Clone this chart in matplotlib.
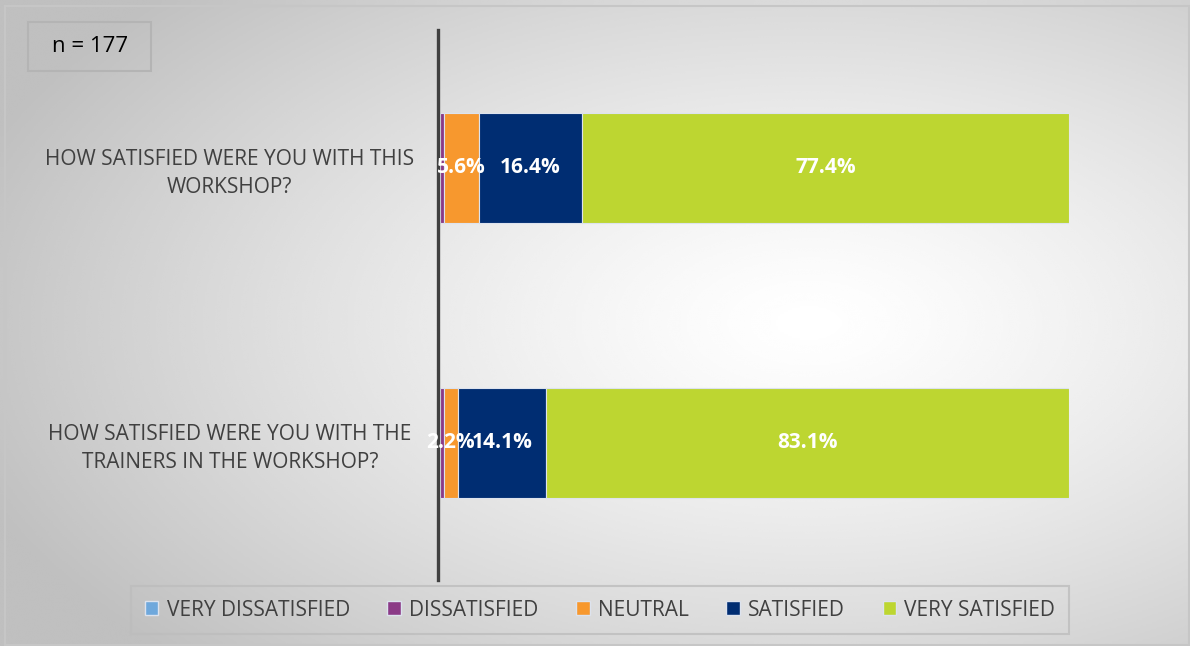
import numpy as np
import matplotlib
matplotlib.use("Agg")
import matplotlib.pyplot as plt
from matplotlib.patches import Rectangle, Patch

# survey results (% of respondents)
questions = ["HOW SATISFIED WERE YOU WITH THE\nTRAINERS IN THE WORKSHOP?",
             "HOW SATISFIED WERE YOU WITH THIS\nWORKSHOP?"]
levels = ["VERY DISSATISFIED", "DISSATISFIED", "NEUTRAL", "SATISFIED", "VERY SATISFIED"]
very_dissatisfied = [0.0, 0.0]
dissatisfied = [0.6, 0.6]
neutral = [2.2, 5.6]
satisfied = [14.1, 16.4]
very_satisfied = [83.1, 77.4]
n_resp = 177

colors = ["#6fa8dc", "#8b3a87", "#f7982e", "#002d72", "#bdd631"]
series = [very_dissatisfied, dissatisfied, neutral, satisfied, very_satisfied]
show_label = [False, False, True, True, True]

FONT = ["Liberation Sans Narrow", "Open Sans", "DejaVu Sans"]
TXT = "#404040"
W, H = 1190, 646

fig = plt.figure(figsize=(W / 100, H / 100), dpi=100)

# radial gradient backdrop
bg = fig.add_axes([0, 0, 1, 1], zorder=-10)
xx, yy = np.meshgrid(np.linspace(0, 1, 600), np.linspace(0, 1, 330))
d = np.sqrt(((xx - 0.68) / 0.75) ** 2 + ((yy - 0.5) / 0.75) ** 2)
shade = 1.0 - 0.25 * np.clip(d, 0, 1) ** 1.3
bg.imshow(shade, cmap="gray", vmin=0, vmax=1, extent=[0, 1, 0, 1],
          aspect="auto", interpolation="bicubic")
bg.set_xlim(0, 1); bg.set_ylim(0, 1)
bg.axis("off")
bg.add_patch(Rectangle((0.004, 0.002), 0.995, 0.988, transform=bg.transAxes,
                       fill=False, ec="#c6c6c6", lw=1.5))

# sample size box
bg.add_patch(Rectangle((28 / W, 1 - 71 / H), 123 / W, 49 / H, transform=bg.transAxes,
                       fill=False, ec="#b4b4b4", lw=1.5))
bg.text(90 / W, 1 - 47 / H, f"n = {n_resp}", ha="center", va="center",
        fontsize=16, color="black", family=FONT, transform=bg.transAxes)

ax = fig.add_axes([440 / W, 1 - 580 / H, 629 / W, 550 / H])
ax.patch.set_alpha(0)
ypos = np.arange(len(questions))
left = np.zeros(len(questions))
for vals, col, lab, show in zip(series, colors, levels, show_label):
    vals = np.array(vals)
    bars = ax.barh(ypos, vals, left=left, height=0.4, color=col,
                   edgecolor="#dde3ee", linewidth=0.8, label=lab, zorder=2)
    if show:
        for b, v in zip(bars, vals):
            ax.text(b.get_x() + b.get_width() / 2, b.get_y() + b.get_height() / 2,
                    f"{v:.1f}%", ha="center", va="center", color="white",
                    fontsize=15, fontweight="bold", family=FONT, zorder=5)
    left += vals

# spine position first: moving it resets the tick labels
for s in ["top", "right", "bottom"]:
    ax.spines[s].set_visible(False)
ax.spines["left"].set_position(("data", -0.3))
ax.spines["left"].set_color("#404040")
ax.spines["left"].set_linewidth(2.4)
ax.spines["left"].set_zorder(4)

ax.set_xlim(0, 100)
ax.set_ylim(-0.5, 1.5)
ax.set_xticks([])
ax.set_yticks(ypos)
ax.set_yticklabels(questions, family=FONT, fontsize=15, color=TXT,
                   multialignment="center", ha="center", linespacing=1.45)
ax.tick_params(axis="y", length=0, pad=150)

handles = [Patch(facecolor=c, edgecolor="#dde3ee", label=l) for c, l in zip(colors, levels)]
leg = fig.legend(handles=handles, loc="center", bbox_to_anchor=(600 / W, 1 - 610 / H),
                 ncol=5, frameon=True, handlelength=0.65, handleheight=0.65,
                 handletextpad=0.4, columnspacing=1.8, borderpad=0.35,
                 prop=dict(family=FONT, size=15))
leg.get_frame().set_facecolor("none")
leg.get_frame().set_edgecolor("#bdbdbd")
leg.get_frame().set_linewidth(1.5)
leg.get_frame().set_boxstyle("square")
for t in leg.get_texts():
    t.set_color(TXT)

fig.savefig("out.png", dpi=100)
